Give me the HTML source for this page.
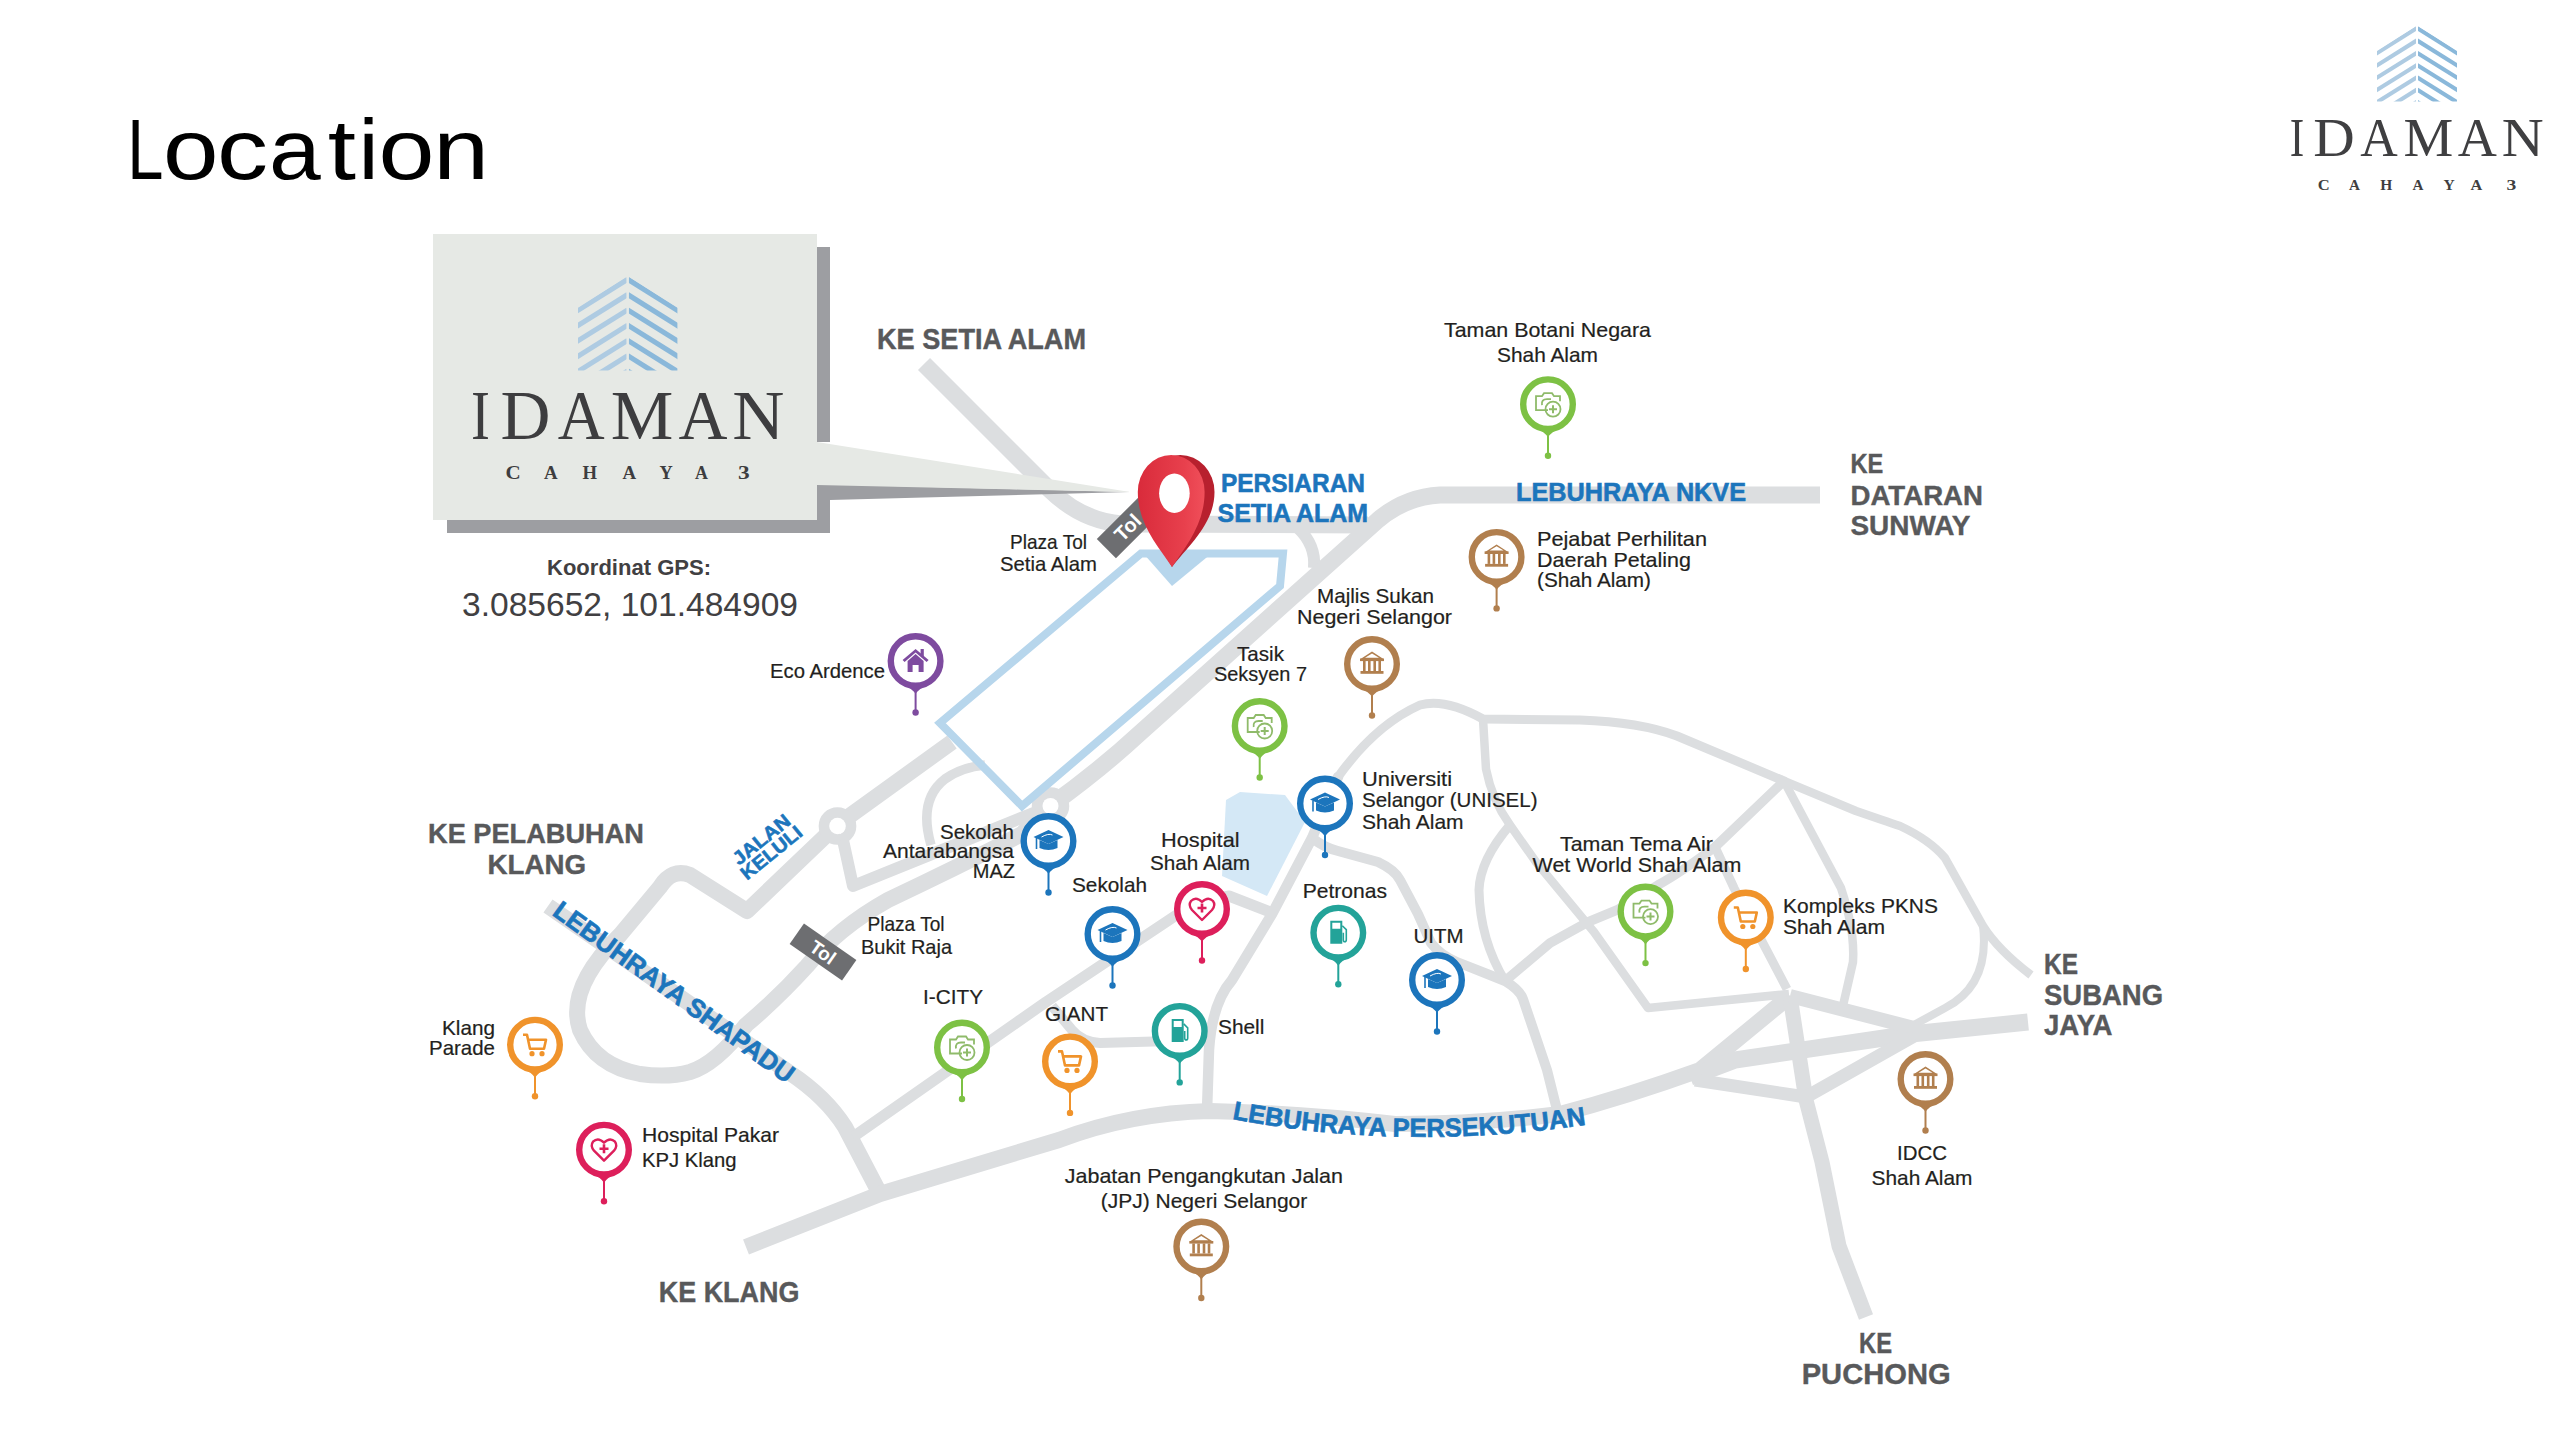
<!DOCTYPE html><html><head><meta charset="utf-8"><style>html,body{margin:0;padding:0;background:#fff;width:2560px;height:1440px;overflow:hidden}svg{display:block}</style></head><body>
<svg xmlns="http://www.w3.org/2000/svg" width="2560" height="1440" viewBox="0 0 2560 1440" font-family="Liberation Sans, sans-serif">
<defs>
<g id="i-bank" fill="#b17f4e"><path d="M -11.5 -5 L 0 -12.5 L 11.5 -5 Z M -7 -6.3 L 0 -10.6 L 7 -6.3 Z" fill-rule="evenodd"/><rect x="-12" y="-5.5" width="24" height="2.6"/><rect x="-9" y="-3" width="2.6" height="10"/><rect x="-4" y="-3" width="2.6" height="10"/><rect x="1.4" y="-3" width="2.6" height="10"/><rect x="6.4" y="-3" width="2.6" height="10"/><rect x="-11.5" y="7" width="23" height="2.8"/></g>
<g id="i-cap" fill="#1c75bc"><path d="M -15 -4 L 0 -11 L 15 -4 L 0 3 Z"/><path d="M -9 -1 L -9 7 Q 0 11 9 7 L 9 -1 L 0 3 Z"/><path d="M -12 -3 L -12 8" stroke="#1c75bc" stroke-width="1.6"/><path d="M -7 -4 Q 0 -8 4 -6" stroke="#fff" stroke-width="1" fill="none"/></g>
<g id="i-heart"><path d="M 0 11 L -10 1 Q -14 -4 -11 -8 Q -6 -13 0 -7 Q 6 -13 11 -8 Q 14 -4 10 1 Z" fill="none" stroke="#dd1f5b" stroke-width="2.4" stroke-linejoin="round"/><path d="M -4.5 -1 L 4.5 -1 M 0 -5.5 L 0 3.5" stroke="#dd1f5b" stroke-width="2.6"/></g>
<g id="i-fuel" fill="#23a399"><path d="M -8 -12 L 4 -12 L 4 11 L -8 11 Z M -6 -10 L 2 -10 L 2 -4 L -6 -4 Z" fill-rule="evenodd"/><path d="M 4 -7 L 8 -3 L 8 7 Q 8 9 6.5 9 Q 5 9 5 7 L 5 0" fill="none" stroke="#23a399" stroke-width="1.6"/></g>
<g id="i-cart"><path d="M -12 -10 L -8 -10 L -5 4 L 9 4 L 11 -5 L -7 -5" fill="none" stroke="#f0932b" stroke-width="2.6" stroke-linejoin="round"/><circle cx="-3" cy="9" r="2.6" fill="#f0932b"/><circle cx="7" cy="9" r="2.6" fill="#f0932b"/></g>
<g id="i-park" fill="none" stroke="#8fbb6a" stroke-width="1.8"><path d="M 0 6 L -12 6 L -12 -8 L -6 -8 L -4 -11 L 4 -11 L 6 -8 L 12 -8 L 12 -3"/><path d="M -6 1 Q -7 -5 -1 -5 L 3 -5"/><circle cx="5" cy="5" r="7.5"/><path d="M 5 1 L 5 9 M 1 5 L 9 5" stroke-width="2"/></g>
<g id="i-house" fill="#7e4b9f"><path d="M -13 -1 L 0 -12 L 13 -1 L 11 1 L 0 -8.5 L -11 1 Z"/><path d="M -8 0 L 0 -7 L 8 0 L 8 11 L 3 11 L 3 4 L -3 4 L -3 11 L -8 11 Z"/><rect x="5" y="-12" width="3.2" height="7"/></g>
</defs>
<path d="M 1226 800 L 1240 792 L 1285 795 L 1305 822 L 1267 896 L 1222 876 Z" fill="#d4e8f6"/>
<path d="M 924 364 L 1050 490 Q 1082 521 1122 524 L 1368 525" fill="none" stroke="#dcdee0" stroke-width="17" stroke-linejoin="round" stroke-linecap="butt"/>
<path d="M 1298 528 Q 1316 545 1314 568" fill="none" stroke="#dcdee0" stroke-width="12" stroke-linejoin="round" stroke-linecap="butt"/>
<path d="M 1820 495 L 1440 495 Q 1405 497 1378 520 L 1140 733 Q 1100 770 1050 806" fill="none" stroke="#dcdee0" stroke-width="17" stroke-linejoin="round" stroke-linecap="butt"/>
<path d="M 1050 806 L 1022 834 Q 960 866 888 900 Q 838 928 807 966 Q 778 998 746 1025 Q 716 1064 690 1072 Q 668 1078 640 1074 Q 596 1066 580 1030 Q 566 988 620 935 L 660 887 Q 672 868 690 875 L 747 911 L 837 825 L 952 742" fill="none" stroke="#dcdee0" stroke-width="16" stroke-linejoin="round" stroke-linecap="butt"/>
<circle cx="837.5" cy="826" r="13.6" fill="none" stroke="#dcdee0" stroke-width="10.5"/>
<circle cx="1050.5" cy="806" r="13.5" fill="none" stroke="#dcdee0" stroke-width="10.5"/>
<path d="M 843 840 L 853 886 L 1036 812" fill="none" stroke="#dcdee0" stroke-width="12" stroke-linejoin="round" stroke-linecap="butt"/>
<path d="M 931 845 Q 918 800 945 779 Q 962 767 985 765" fill="none" stroke="#dcdee0" stroke-width="9.5" stroke-linejoin="round" stroke-linecap="butt"/>
<path d="M 548 906 L 790 1073 Q 826 1097 845 1127 L 880 1194" fill="none" stroke="#dcdee0" stroke-width="16" stroke-linejoin="round" stroke-linecap="butt"/>
<path d="M 746 1247 L 880 1194 L 1059 1140 Q 1130 1113 1210 1111 Q 1300 1113 1395 1124 Q 1480 1124 1560 1114 Q 1625 1097 1700 1070 L 1790 996" fill="none" stroke="#dcdee0" stroke-width="16" stroke-linejoin="round" stroke-linecap="butt"/>
<path d="M 853 1137 L 1046 1002 L 1175 916 Q 1200 900 1229 896 L 1273 913" fill="none" stroke="#dcdee0" stroke-width="11" stroke-linejoin="round" stroke-linecap="butt"/>
<path d="M 1052 1006 L 1072 1030 Q 1082 1042 1100 1043 L 1207 1040" fill="none" stroke="#dcdee0" stroke-width="10" stroke-linejoin="round" stroke-linecap="butt"/>
<path d="M 1207 1111 L 1209 1050 Q 1212 1003 1232 980 L 1272 914 L 1312 838 L 1338 777" fill="none" stroke="#dcdee0" stroke-width="10.5" stroke-linejoin="round" stroke-linecap="round"/>
<path d="M 1338 777 Q 1375 725 1420 705 Q 1445 698 1483 719 L 1580 720 Q 1640 722 1677 736 L 1784 781" fill="none" stroke="#dcdee0" stroke-width="9" stroke-linejoin="round" stroke-linecap="round"/>
<path d="M 1784 781 Q 1830 800 1856 811 Q 1885 821 1900 826 Q 1930 840 1945 858 L 1983 926 Q 1998 950 2031 975" fill="none" stroke="#dcdee0" stroke-width="8.5" stroke-linejoin="round" stroke-linecap="butt"/>
<path d="M 1312 838 Q 1325 848 1338 851 L 1378 862 Q 1395 870 1400 880 L 1418 914 L 1431 943 Q 1440 955 1457 962 L 1505 981 Q 1520 990 1523 999 L 1547 1070 L 1557 1110" fill="none" stroke="#dcdee0" stroke-width="10" stroke-linejoin="round" stroke-linecap="butt"/>
<path d="M 1483 719 L 1486 769 Q 1492 800 1510 825 L 1536 862 L 1594 932 L 1648 1008 L 1789 994" fill="none" stroke="#dcdee0" stroke-width="8.5" stroke-linejoin="round" stroke-linecap="butt"/>
<path d="M 1510 825 Q 1480 860 1479 890 Q 1480 940 1505 981" fill="none" stroke="#dcdee0" stroke-width="9" stroke-linejoin="round" stroke-linecap="butt"/>
<path d="M 1786 779 L 1715 847 Q 1680 873 1658 885 L 1617 910 Q 1600 917 1588 922 L 1550 943 L 1505 981" fill="none" stroke="#dcdee0" stroke-width="9.5" stroke-linejoin="round" stroke-linecap="butt"/>
<path d="M 1784 781 L 1841 888 Q 1855 930 1853 962 L 1842 1010" fill="none" stroke="#dcdee0" stroke-width="8.5" stroke-linejoin="round" stroke-linecap="butt"/>
<path d="M 1715 847 L 1734 888 L 1787 989" fill="none" stroke="#dcdee0" stroke-width="9" stroke-linejoin="round" stroke-linecap="butt"/>
<path d="M 1983 926 Q 1990 985 1945 1008 L 1912 1026" fill="none" stroke="#dcdee0" stroke-width="8" stroke-linejoin="round" stroke-linecap="butt"/>
<path d="M 1690 1077 L 1735 1060 L 1911 1034 L 2028 1022" fill="none" stroke="#dcdee0" stroke-width="17" stroke-linejoin="round" stroke-linecap="butt"/>
<path d="M 1790 996 L 1806 1100 L 1822 1162 L 1839 1246 L 1866 1317" fill="none" stroke="#dcdee0" stroke-width="15" stroke-linejoin="round" stroke-linecap="butt"/>
<path d="M 1790 996 L 1914 1028" fill="none" stroke="#dcdee0" stroke-width="14" stroke-linejoin="round" stroke-linecap="butt"/>
<path d="M 1695 1080 L 1806 1097 L 1914 1036" fill="none" stroke="#dcdee0" stroke-width="13" stroke-linejoin="round" stroke-linecap="butt"/>
<circle cx="837.5" cy="826" r="8.3" fill="#fff"/><circle cx="1050.5" cy="806" r="8" fill="#fff"/>
<path d="M 1141 553.5 L 1283 553.5 L 1280 586 L 1022 806 L 940 723 Z" fill="none" stroke="#b7d6ec" stroke-width="8" stroke-linejoin="miter"/>
<path d="M 1143 553 L 1212 553 L 1172 586 Z" fill="#b7d6ec"/>
<path d="M 447 247 L 830 247 L 830 442 L 817 442 L 817 484 L 1130 492 L 830 500 L 830 533 L 447 533 Z" fill="#9d9ea2"/>
<path d="M 433 234 L 817 234 L 817 442 L 1130 492 L 817 485 L 817 520 L 433 520 Z" fill="#e6e9e5"/>
<clipPath id="lg1L"><path d="M 578 307.7625 L 626.4575000000001 276.7 L 626.4575000000001 370.50875 L 578 370.50875 Z"/></clipPath><clipPath id="lg1R"><path d="M 628.9425 276.7 L 677.4 307.7625 L 677.4 370.50875 L 628.9425 370.50875 Z"/></clipPath><g clip-path="url(#lg1L)" stroke="#aecbe2" stroke-width="5.094250000000001"><line x1="571.7875" y1="314.16137499999996" x2="627.7" y2="279.247125" /><line x1="571.7875" y1="329.444125" x2="627.7" y2="294.529875" /><line x1="571.7875" y1="344.72687499999995" x2="627.7" y2="309.81262499999997" /><line x1="571.7875" y1="360.00962499999997" x2="627.7" y2="325.095375" /><line x1="571.7875" y1="375.292375" x2="627.7" y2="340.378125" /><line x1="571.7875" y1="390.57512499999996" x2="627.7" y2="355.660875" /><line x1="571.7875" y1="405.857875" x2="627.7" y2="370.943625" /><line x1="571.7875" y1="421.140625" x2="627.7" y2="386.226375" /></g><g clip-path="url(#lg1R)" stroke="#8ab8da" stroke-width="5.094250000000001"><line x1="627.7" y1="279.247125" x2="683.6125" y2="314.16137499999996" /><line x1="627.7" y1="294.529875" x2="683.6125" y2="329.444125" /><line x1="627.7" y1="309.81262499999997" x2="683.6125" y2="344.72687499999995" /><line x1="627.7" y1="325.095375" x2="683.6125" y2="360.00962499999997" /><line x1="627.7" y1="340.378125" x2="683.6125" y2="375.292375" /><line x1="627.7" y1="355.660875" x2="683.6125" y2="390.57512499999996" /><line x1="627.7" y1="370.943625" x2="683.6125" y2="405.857875" /><line x1="627.7" y1="386.226375" x2="683.6125" y2="421.140625" /></g>
<text x="470.95" y="438.6" font-size="70" font-family="Liberation Serif" fill="#3d3d3f" textLength="18.94" lengthAdjust="spacingAndGlyphs">I</text><text x="500.49" y="438.6" font-size="70" font-family="Liberation Serif" fill="#3d3d3f" textLength="49.99" lengthAdjust="spacingAndGlyphs">D</text><text x="557.65" y="438.6" font-size="70" font-family="Liberation Serif" fill="#3d3d3f" textLength="46.92" lengthAdjust="spacingAndGlyphs">A</text><text x="610.66" y="438.6" font-size="70" font-family="Liberation Serif" fill="#3d3d3f" textLength="62.59" lengthAdjust="spacingAndGlyphs">M</text><text x="678.52" y="438.6" font-size="70" font-family="Liberation Serif" fill="#3d3d3f" textLength="48.96" lengthAdjust="spacingAndGlyphs">A</text><text x="732.21" y="438.6" font-size="70" font-family="Liberation Serif" fill="#3d3d3f" textLength="52.17" lengthAdjust="spacingAndGlyphs">N</text>
<text x="505.47" y="479" font-size="19.5" font-family="Liberation Serif" font-weight="bold" fill="#3d3d3f" textLength="15.24" lengthAdjust="spacingAndGlyphs">C</text><text x="544.11" y="479" font-size="19.5" font-family="Liberation Serif" font-weight="bold" fill="#3d3d3f" textLength="13.62" lengthAdjust="spacingAndGlyphs">A</text><text x="582.58" y="479" font-size="19.5" font-family="Liberation Serif" font-weight="bold" fill="#3d3d3f" textLength="14.53" lengthAdjust="spacingAndGlyphs">H</text><text x="622.51" y="479" font-size="19.5" font-family="Liberation Serif" font-weight="bold" fill="#3d3d3f" textLength="13.62" lengthAdjust="spacingAndGlyphs">A</text><text x="659.59" y="479" font-size="19.5" font-family="Liberation Serif" font-weight="bold" fill="#3d3d3f" textLength="13.26" lengthAdjust="spacingAndGlyphs">Y</text><text x="694.92" y="479" font-size="19.5" font-family="Liberation Serif" font-weight="bold" fill="#3d3d3f" textLength="12.91" lengthAdjust="spacingAndGlyphs">A</text><text x="738.01" y="479" font-size="19.5" font-family="Liberation Serif" font-weight="bold" fill="#3d3d3f" textLength="11.68" lengthAdjust="spacingAndGlyphs">3</text>
<text x="547" y="575" font-size="22" font-weight="bold" fill="#414042" font-family="Liberation Sans" text-anchor="start" textLength="164.0" lengthAdjust="spacingAndGlyphs">Koordinat GPS:</text>
<text x="462" y="615.6" font-size="34" fill="#414042" font-family="Liberation Sans" text-anchor="start" textLength="336.0" lengthAdjust="spacingAndGlyphs">3.085652, 101.484909</text>
<text x="127.26" y="179" font-size="86" font-family="Liberation Sans" fill="#000" textLength="36.19" lengthAdjust="spacingAndGlyphs">L</text><text x="163.01" y="179" font-size="86" font-family="Liberation Sans" fill="#000" textLength="55.50" lengthAdjust="spacingAndGlyphs">o</text><text x="217.11" y="179" font-size="86" font-family="Liberation Sans" fill="#000" textLength="51.04" lengthAdjust="spacingAndGlyphs">c</text><text x="268.99" y="179" font-size="86" font-family="Liberation Sans" fill="#000" textLength="51.72" lengthAdjust="spacingAndGlyphs">a</text><text x="327.78" y="179" font-size="86" font-family="Liberation Sans" fill="#000" textLength="28.22" lengthAdjust="spacingAndGlyphs">t</text><text x="358.51" y="179" font-size="86" font-family="Liberation Sans" fill="#000" textLength="20.20" lengthAdjust="spacingAndGlyphs">i</text><text x="378.47" y="179" font-size="86" font-family="Liberation Sans" fill="#000" textLength="55.97" lengthAdjust="spacingAndGlyphs">o</text><text x="433.28" y="179" font-size="86" font-family="Liberation Sans" fill="#000" textLength="55.75" lengthAdjust="spacingAndGlyphs">n</text>
<clipPath id="lg2L"><path d="M 2377 51.0 L 2416.0 26 L 2416.0 101.5 L 2377 101.5 Z"/></clipPath><clipPath id="lg2R"><path d="M 2418.0 26 L 2457 51.0 L 2457 101.5 L 2418.0 101.5 Z"/></clipPath><g clip-path="url(#lg2L)" stroke="#aecbe2" stroke-width="4.1"><line x1="2372.0" y1="56.15" x2="2417.0" y2="28.049999999999997" /><line x1="2372.0" y1="68.44999999999999" x2="2417.0" y2="40.349999999999994" /><line x1="2372.0" y1="80.74999999999999" x2="2417.0" y2="52.64999999999999" /><line x1="2372.0" y1="93.05" x2="2417.0" y2="64.95" /><line x1="2372.0" y1="105.35" x2="2417.0" y2="77.25" /><line x1="2372.0" y1="117.64999999999999" x2="2417.0" y2="89.55" /><line x1="2372.0" y1="129.95000000000002" x2="2417.0" y2="101.85000000000001" /><line x1="2372.0" y1="142.25000000000003" x2="2417.0" y2="114.15000000000003" /></g><g clip-path="url(#lg2R)" stroke="#8ab8da" stroke-width="4.1"><line x1="2417.0" y1="28.049999999999997" x2="2462.0" y2="56.15" /><line x1="2417.0" y1="40.349999999999994" x2="2462.0" y2="68.44999999999999" /><line x1="2417.0" y1="52.64999999999999" x2="2462.0" y2="80.74999999999999" /><line x1="2417.0" y1="64.95" x2="2462.0" y2="93.05" /><line x1="2417.0" y1="77.25" x2="2462.0" y2="105.35" /><line x1="2417.0" y1="89.55" x2="2462.0" y2="117.64999999999999" /><line x1="2417.0" y1="101.85000000000001" x2="2462.0" y2="129.95000000000002" /><line x1="2417.0" y1="114.15000000000003" x2="2462.0" y2="142.25000000000003" /></g>
<text x="2289.63" y="156.1" font-size="55.3" font-family="Liberation Serif" fill="#3f3f41" textLength="14.49" lengthAdjust="spacingAndGlyphs">I</text><text x="2313.13" y="156.1" font-size="55.3" font-family="Liberation Serif" fill="#3f3f41" textLength="41.47" lengthAdjust="spacingAndGlyphs">D</text><text x="2360.18" y="156.1" font-size="55.3" font-family="Liberation Serif" fill="#3f3f41" textLength="37.49" lengthAdjust="spacingAndGlyphs">A</text><text x="2403.38" y="156.1" font-size="55.3" font-family="Liberation Serif" fill="#3f3f41" textLength="49.75" lengthAdjust="spacingAndGlyphs">M</text><text x="2457.86" y="156.1" font-size="55.3" font-family="Liberation Serif" fill="#3f3f41" textLength="39.13" lengthAdjust="spacingAndGlyphs">A</text><text x="2501.82" y="156.1" font-size="55.3" font-family="Liberation Serif" fill="#3f3f41" textLength="41.93" lengthAdjust="spacingAndGlyphs">N</text>
<text x="2317.89" y="189.9" font-size="15" font-family="Liberation Serif" font-weight="bold" fill="#3f3f41" textLength="11.98" lengthAdjust="spacingAndGlyphs">C</text><text x="2349.05" y="189.9" font-size="15" font-family="Liberation Serif" font-weight="bold" fill="#3f3f41" textLength="10.96" lengthAdjust="spacingAndGlyphs">A</text><text x="2380.24" y="189.9" font-size="15" font-family="Liberation Serif" font-weight="bold" fill="#3f3f41" textLength="12.02" lengthAdjust="spacingAndGlyphs">H</text><text x="2412.45" y="189.9" font-size="15" font-family="Liberation Serif" font-weight="bold" fill="#3f3f41" textLength="10.96" lengthAdjust="spacingAndGlyphs">A</text><text x="2443.63" y="189.9" font-size="15" font-family="Liberation Serif" font-weight="bold" fill="#3f3f41" textLength="11.26" lengthAdjust="spacingAndGlyphs">Y</text><text x="2470.44" y="189.9" font-size="15" font-family="Liberation Serif" font-weight="bold" fill="#3f3f41" textLength="11.78" lengthAdjust="spacingAndGlyphs">A</text><text x="2506.55" y="189.9" font-size="15" font-family="Liberation Serif" font-weight="bold" fill="#3f3f41" textLength="9.81" lengthAdjust="spacingAndGlyphs">3</text>
<g transform="translate(1129,526) rotate(-45)"><rect x="-32" y="-13.5" width="64" height="27" fill="#6d6e71"/><text x="-2" y="7" font-size="20" font-weight="bold" fill="#fff" text-anchor="middle">Tol</text></g>
<g transform="translate(823,952) rotate(35)"><rect x="-32" y="-12.5" width="64" height="25" fill="#6d6e71"/><text x="0" y="7" font-size="19" font-weight="bold" fill="#fff" text-anchor="middle">Tol</text></g>
<defs><linearGradient id="pinf" x1="0" y1="0" x2="1" y2="0"><stop offset="0" stop-color="#d92b3b"/><stop offset="0.7" stop-color="#e8404d"/><stop offset="1" stop-color="#f04f5a"/></linearGradient></defs>
<path d="M 1172 567 C 1160 546 1146 524 1146 492 A 34.2 37 0 0 1 1214.5 492 C 1214.5 524 1188 546 1172 567 Z" fill="#b8202e"/>
<path d="M 1172 567 C 1158 546 1137.8 524 1137.8 492 A 33.4 37 0 0 1 1204.6 492 C 1204.6 524 1186 546 1172 567 Z" fill="url(#pinf)"/>
<ellipse cx="1174.4" cy="493.3" rx="15.3" ry="19.7" fill="#fff"/>
<g transform="translate(1548,404.2)"><path d="M -13 23 Q -3 28 0 33 Q 3 28 13 23 Z" fill="#7dc144"/><line x1="0" y1="30" x2="0" y2="50" stroke="#7dc144" stroke-width="2"/><circle cx="0" cy="51.5" r="3.2" fill="#7dc144"/><circle cx="0" cy="0" r="24.8" fill="#fff" stroke="#7dc144" stroke-width="6.4"/><use href="#i-park"/></g>
<g transform="translate(1496.6,556.9)"><path d="M -13 23 Q -3 28 0 33 Q 3 28 13 23 Z" fill="#b17f4e"/><line x1="0" y1="30" x2="0" y2="50" stroke="#b17f4e" stroke-width="2"/><circle cx="0" cy="51.5" r="3.2" fill="#b17f4e"/><circle cx="0" cy="0" r="24.8" fill="#fff" stroke="#b17f4e" stroke-width="6.4"/><use href="#i-bank"/></g>
<g transform="translate(1372,664)"><path d="M -13 23 Q -3 28 0 33 Q 3 28 13 23 Z" fill="#b17f4e"/><line x1="0" y1="30" x2="0" y2="50" stroke="#b17f4e" stroke-width="2"/><circle cx="0" cy="51.5" r="3.2" fill="#b17f4e"/><circle cx="0" cy="0" r="24.8" fill="#fff" stroke="#b17f4e" stroke-width="6.4"/><use href="#i-bank"/></g>
<g transform="translate(1259.7,726)"><path d="M -13 23 Q -3 28 0 33 Q 3 28 13 23 Z" fill="#7dc144"/><line x1="0" y1="30" x2="0" y2="50" stroke="#7dc144" stroke-width="2"/><circle cx="0" cy="51.5" r="3.2" fill="#7dc144"/><circle cx="0" cy="0" r="24.8" fill="#fff" stroke="#7dc144" stroke-width="6.4"/><use href="#i-park"/></g>
<g transform="translate(915.6,661)"><path d="M -13 23 Q -3 28 0 33 Q 3 28 13 23 Z" fill="#7e4b9f"/><line x1="0" y1="30" x2="0" y2="50" stroke="#7e4b9f" stroke-width="2"/><circle cx="0" cy="51.5" r="3.2" fill="#7e4b9f"/><circle cx="0" cy="0" r="24.8" fill="#fff" stroke="#7e4b9f" stroke-width="6.4"/><use href="#i-house"/></g>
<g transform="translate(1325,803.5)"><path d="M -13 23 Q -3 28 0 33 Q 3 28 13 23 Z" fill="#1c75bc"/><line x1="0" y1="30" x2="0" y2="50" stroke="#1c75bc" stroke-width="2"/><circle cx="0" cy="51.5" r="3.2" fill="#1c75bc"/><circle cx="0" cy="0" r="24.8" fill="#fff" stroke="#1c75bc" stroke-width="6.4"/><use href="#i-cap"/></g>
<g transform="translate(1048.5,841)"><path d="M -13 23 Q -3 28 0 33 Q 3 28 13 23 Z" fill="#1c75bc"/><line x1="0" y1="30" x2="0" y2="50" stroke="#1c75bc" stroke-width="2"/><circle cx="0" cy="51.5" r="3.2" fill="#1c75bc"/><circle cx="0" cy="0" r="24.8" fill="#fff" stroke="#1c75bc" stroke-width="6.4"/><use href="#i-cap"/></g>
<g transform="translate(1202,909)"><path d="M -13 23 Q -3 28 0 33 Q 3 28 13 23 Z" fill="#dd1f5b"/><line x1="0" y1="30" x2="0" y2="50" stroke="#dd1f5b" stroke-width="2"/><circle cx="0" cy="51.5" r="3.2" fill="#dd1f5b"/><circle cx="0" cy="0" r="24.8" fill="#fff" stroke="#dd1f5b" stroke-width="6.4"/><use href="#i-heart"/></g>
<g transform="translate(1112.5,934)"><path d="M -13 23 Q -3 28 0 33 Q 3 28 13 23 Z" fill="#1c75bc"/><line x1="0" y1="30" x2="0" y2="50" stroke="#1c75bc" stroke-width="2"/><circle cx="0" cy="51.5" r="3.2" fill="#1c75bc"/><circle cx="0" cy="0" r="24.8" fill="#fff" stroke="#1c75bc" stroke-width="6.4"/><use href="#i-cap"/></g>
<g transform="translate(1338.3,932.7)"><path d="M -13 23 Q -3 28 0 33 Q 3 28 13 23 Z" fill="#23a399"/><line x1="0" y1="30" x2="0" y2="50" stroke="#23a399" stroke-width="2"/><circle cx="0" cy="51.5" r="3.2" fill="#23a399"/><circle cx="0" cy="0" r="24.8" fill="#fff" stroke="#23a399" stroke-width="6.4"/><use href="#i-fuel"/></g>
<g transform="translate(1437,980)"><path d="M -13 23 Q -3 28 0 33 Q 3 28 13 23 Z" fill="#1c75bc"/><line x1="0" y1="30" x2="0" y2="50" stroke="#1c75bc" stroke-width="2"/><circle cx="0" cy="51.5" r="3.2" fill="#1c75bc"/><circle cx="0" cy="0" r="24.8" fill="#fff" stroke="#1c75bc" stroke-width="6.4"/><use href="#i-cap"/></g>
<g transform="translate(1645.5,911.6)"><path d="M -13 23 Q -3 28 0 33 Q 3 28 13 23 Z" fill="#7dc144"/><line x1="0" y1="30" x2="0" y2="50" stroke="#7dc144" stroke-width="2"/><circle cx="0" cy="51.5" r="3.2" fill="#7dc144"/><circle cx="0" cy="0" r="24.8" fill="#fff" stroke="#7dc144" stroke-width="6.4"/><use href="#i-park"/></g>
<g transform="translate(1745.8,917.5)"><path d="M -13 23 Q -3 28 0 33 Q 3 28 13 23 Z" fill="#f0932b"/><line x1="0" y1="30" x2="0" y2="50" stroke="#f0932b" stroke-width="2"/><circle cx="0" cy="51.5" r="3.2" fill="#f0932b"/><circle cx="0" cy="0" r="24.8" fill="#fff" stroke="#f0932b" stroke-width="6.4"/><use href="#i-cart"/></g>
<g transform="translate(962,1047.5)"><path d="M -13 23 Q -3 28 0 33 Q 3 28 13 23 Z" fill="#7dc144"/><line x1="0" y1="30" x2="0" y2="50" stroke="#7dc144" stroke-width="2"/><circle cx="0" cy="51.5" r="3.2" fill="#7dc144"/><circle cx="0" cy="0" r="24.8" fill="#fff" stroke="#7dc144" stroke-width="6.4"/><use href="#i-park"/></g>
<g transform="translate(1070,1061.4)"><path d="M -13 23 Q -3 28 0 33 Q 3 28 13 23 Z" fill="#f0932b"/><line x1="0" y1="30" x2="0" y2="50" stroke="#f0932b" stroke-width="2"/><circle cx="0" cy="51.5" r="3.2" fill="#f0932b"/><circle cx="0" cy="0" r="24.8" fill="#fff" stroke="#f0932b" stroke-width="6.4"/><use href="#i-cart"/></g>
<g transform="translate(1179.7,1030.9)"><path d="M -13 23 Q -3 28 0 33 Q 3 28 13 23 Z" fill="#23a399"/><line x1="0" y1="30" x2="0" y2="50" stroke="#23a399" stroke-width="2"/><circle cx="0" cy="51.5" r="3.2" fill="#23a399"/><circle cx="0" cy="0" r="24.8" fill="#fff" stroke="#23a399" stroke-width="6.4"/><use href="#i-fuel"/></g>
<g transform="translate(535,1044.7)"><path d="M -13 23 Q -3 28 0 33 Q 3 28 13 23 Z" fill="#f0932b"/><line x1="0" y1="30" x2="0" y2="50" stroke="#f0932b" stroke-width="2"/><circle cx="0" cy="51.5" r="3.2" fill="#f0932b"/><circle cx="0" cy="0" r="24.8" fill="#fff" stroke="#f0932b" stroke-width="6.4"/><use href="#i-cart"/></g>
<g transform="translate(604,1149.7)"><path d="M -13 23 Q -3 28 0 33 Q 3 28 13 23 Z" fill="#dd1f5b"/><line x1="0" y1="30" x2="0" y2="50" stroke="#dd1f5b" stroke-width="2"/><circle cx="0" cy="51.5" r="3.2" fill="#dd1f5b"/><circle cx="0" cy="0" r="24.8" fill="#fff" stroke="#dd1f5b" stroke-width="6.4"/><use href="#i-heart"/></g>
<g transform="translate(1925.5,1079)"><path d="M -13 23 Q -3 28 0 33 Q 3 28 13 23 Z" fill="#b17f4e"/><line x1="0" y1="30" x2="0" y2="50" stroke="#b17f4e" stroke-width="2"/><circle cx="0" cy="51.5" r="3.2" fill="#b17f4e"/><circle cx="0" cy="0" r="24.8" fill="#fff" stroke="#b17f4e" stroke-width="6.4"/><use href="#i-bank"/></g>
<g transform="translate(1201.3,1246.5)"><path d="M -13 23 Q -3 28 0 33 Q 3 28 13 23 Z" fill="#b17f4e"/><line x1="0" y1="30" x2="0" y2="50" stroke="#b17f4e" stroke-width="2"/><circle cx="0" cy="51.5" r="3.2" fill="#b17f4e"/><circle cx="0" cy="0" r="24.8" fill="#fff" stroke="#b17f4e" stroke-width="6.4"/><use href="#i-bank"/></g>
<text x="877" y="349" font-size="30" font-weight="bold" fill="#58595b" font-family="Liberation Sans" text-anchor="start" textLength="209.0" lengthAdjust="spacingAndGlyphs" stroke="#58595b" stroke-width="0.4">KE SETIA ALAM</text>
<text x="1221" y="492" font-size="26" font-weight="bold" fill="#1c75bc" font-family="Liberation Sans" text-anchor="start" textLength="144.0" lengthAdjust="spacingAndGlyphs" stroke="#1c75bc" stroke-width="0.6">PERSIARAN</text>
<text x="1217.5" y="522" font-size="26" font-weight="bold" fill="#1c75bc" font-family="Liberation Sans" text-anchor="start" textLength="150.5" lengthAdjust="spacingAndGlyphs" stroke="#1c75bc" stroke-width="0.6">SETIA ALAM</text>
<text x="1010" y="549" font-size="21" fill="#231f20" font-family="Liberation Sans" text-anchor="start" textLength="77.0" lengthAdjust="spacingAndGlyphs" stroke="#231f20" stroke-width="0.2">Plaza Tol</text>
<text x="1000" y="571" font-size="21" fill="#231f20" font-family="Liberation Sans" text-anchor="start" textLength="97.0" lengthAdjust="spacingAndGlyphs" stroke="#231f20" stroke-width="0.2">Setia Alam</text>
<text x="1444" y="337.4" font-size="21" fill="#231f20" font-family="Liberation Sans" text-anchor="start" textLength="207.0" lengthAdjust="spacingAndGlyphs" stroke="#231f20" stroke-width="0.2">Taman Botani Negara</text>
<text x="1497" y="362.3" font-size="21" fill="#231f20" font-family="Liberation Sans" text-anchor="start" textLength="101.0" lengthAdjust="spacingAndGlyphs" stroke="#231f20" stroke-width="0.2">Shah Alam</text>
<text x="1516" y="500.6" font-size="26" font-weight="bold" fill="#1c75bc" font-family="Liberation Sans" text-anchor="start" textLength="230.0" lengthAdjust="spacingAndGlyphs" stroke="#1c75bc" stroke-width="0.6">LEBUHRAYA NKVE</text>
<text x="1850.5" y="473.3" font-size="28" font-weight="bold" fill="#58595b" font-family="Liberation Sans" text-anchor="start" textLength="32.8" lengthAdjust="spacingAndGlyphs" stroke="#58595b" stroke-width="0.4">KE</text>
<text x="1850.5" y="505" font-size="28" font-weight="bold" fill="#58595b" font-family="Liberation Sans" text-anchor="start" textLength="132.5" lengthAdjust="spacingAndGlyphs" stroke="#58595b" stroke-width="0.4">DATARAN</text>
<text x="1850.5" y="534.5" font-size="28" font-weight="bold" fill="#58595b" font-family="Liberation Sans" text-anchor="start" textLength="120.0" lengthAdjust="spacingAndGlyphs" stroke="#58595b" stroke-width="0.4">SUNWAY</text>
<text x="1537" y="545.7" font-size="21" fill="#231f20" font-family="Liberation Sans" text-anchor="start" textLength="170.0" lengthAdjust="spacingAndGlyphs" stroke="#231f20" stroke-width="0.2">Pejabat Perhilitan</text>
<text x="1537" y="567" font-size="21" fill="#231f20" font-family="Liberation Sans" text-anchor="start" textLength="154.0" lengthAdjust="spacingAndGlyphs" stroke="#231f20" stroke-width="0.2">Daerah Petaling</text>
<text x="1537" y="587.4" font-size="21" fill="#231f20" font-family="Liberation Sans" text-anchor="start" textLength="114.0" lengthAdjust="spacingAndGlyphs" stroke="#231f20" stroke-width="0.2">(Shah Alam)</text>
<text x="1317" y="603" font-size="21" fill="#231f20" font-family="Liberation Sans" text-anchor="start" textLength="117.0" lengthAdjust="spacingAndGlyphs" stroke="#231f20" stroke-width="0.2">Majlis Sukan</text>
<text x="1297" y="624" font-size="21" fill="#231f20" font-family="Liberation Sans" text-anchor="start" textLength="155.0" lengthAdjust="spacingAndGlyphs" stroke="#231f20" stroke-width="0.2">Negeri Selangor</text>
<text x="1237" y="661" font-size="21" fill="#231f20" font-family="Liberation Sans" text-anchor="start" textLength="47.0" lengthAdjust="spacingAndGlyphs" stroke="#231f20" stroke-width="0.2">Tasik</text>
<text x="1214" y="681" font-size="21" fill="#231f20" font-family="Liberation Sans" text-anchor="start" textLength="93.0" lengthAdjust="spacingAndGlyphs" stroke="#231f20" stroke-width="0.2">Seksyen 7</text>
<text x="770" y="677.7" font-size="21" fill="#231f20" font-family="Liberation Sans" text-anchor="start" textLength="115.0" lengthAdjust="spacingAndGlyphs" stroke="#231f20" stroke-width="0.2">Eco Ardence</text>
<text x="1362" y="786.3" font-size="21" fill="#231f20" font-family="Liberation Sans" text-anchor="start" textLength="90.0" lengthAdjust="spacingAndGlyphs" stroke="#231f20" stroke-width="0.2">Universiti</text>
<text x="1362" y="807.4" font-size="21" fill="#231f20" font-family="Liberation Sans" text-anchor="start" textLength="175.5" lengthAdjust="spacingAndGlyphs" stroke="#231f20" stroke-width="0.2">Selangor (UNISEL)</text>
<text x="1362" y="828.5" font-size="21" fill="#231f20" font-family="Liberation Sans" text-anchor="start" textLength="101.6" lengthAdjust="spacingAndGlyphs" stroke="#231f20" stroke-width="0.2">Shah Alam</text>
<text x="940" y="838.5" font-size="21" fill="#231f20" font-family="Liberation Sans" text-anchor="start" textLength="74.0" lengthAdjust="spacingAndGlyphs" stroke="#231f20" stroke-width="0.2">Sekolah</text>
<text x="883" y="858" font-size="21" fill="#231f20" font-family="Liberation Sans" text-anchor="start" textLength="131.0" lengthAdjust="spacingAndGlyphs" stroke="#231f20" stroke-width="0.2">Antarabangsa</text>
<text x="972.7" y="878" font-size="21" fill="#231f20" font-family="Liberation Sans" text-anchor="start" textLength="42.3" lengthAdjust="spacingAndGlyphs" stroke="#231f20" stroke-width="0.2">MAZ</text>
<text x="1161" y="846.7" font-size="21" fill="#231f20" font-family="Liberation Sans" text-anchor="start" textLength="78.6" lengthAdjust="spacingAndGlyphs" stroke="#231f20" stroke-width="0.2">Hospital</text>
<text x="1150" y="869.6" font-size="21" fill="#231f20" font-family="Liberation Sans" text-anchor="start" textLength="100.0" lengthAdjust="spacingAndGlyphs" stroke="#231f20" stroke-width="0.2">Shah Alam</text>
<text x="1072" y="891.8" font-size="21" fill="#231f20" font-family="Liberation Sans" text-anchor="start" textLength="75.0" lengthAdjust="spacingAndGlyphs" stroke="#231f20" stroke-width="0.2">Sekolah</text>
<text x="428" y="843.3" font-size="28" font-weight="bold" fill="#58595b" font-family="Liberation Sans" text-anchor="start" textLength="216.0" lengthAdjust="spacingAndGlyphs" stroke="#58595b" stroke-width="0.4">KE PELABUHAN</text>
<text x="487.5" y="874.4" font-size="28" font-weight="bold" fill="#58595b" font-family="Liberation Sans" text-anchor="start" textLength="98.5" lengthAdjust="spacingAndGlyphs" stroke="#58595b" stroke-width="0.4">KLANG</text>
<text x="867.5" y="931" font-size="21" fill="#231f20" font-family="Liberation Sans" text-anchor="start" textLength="77.1" lengthAdjust="spacingAndGlyphs" stroke="#231f20" stroke-width="0.2">Plaza Tol</text>
<text x="861" y="954" font-size="21" fill="#231f20" font-family="Liberation Sans" text-anchor="start" textLength="91.0" lengthAdjust="spacingAndGlyphs" stroke="#231f20" stroke-width="0.2">Bukit Raja</text>
<text x="1302.7" y="898.4" font-size="21" fill="#231f20" font-family="Liberation Sans" text-anchor="start" textLength="84.3" lengthAdjust="spacingAndGlyphs" stroke="#231f20" stroke-width="0.2">Petronas</text>
<text x="1413.5" y="943.3" font-size="21" fill="#231f20" font-family="Liberation Sans" text-anchor="start" textLength="50.1" lengthAdjust="spacingAndGlyphs" stroke="#231f20" stroke-width="0.2">UITM</text>
<text x="1560" y="850.7" font-size="21" fill="#231f20" font-family="Liberation Sans" text-anchor="start" textLength="153.0" lengthAdjust="spacingAndGlyphs" stroke="#231f20" stroke-width="0.2">Taman Tema Air</text>
<text x="1532.6" y="871.5" font-size="21" fill="#231f20" font-family="Liberation Sans" text-anchor="start" textLength="208.8" lengthAdjust="spacingAndGlyphs" stroke="#231f20" stroke-width="0.2">Wet World Shah Alam</text>
<text x="1783" y="913" font-size="21" fill="#231f20" font-family="Liberation Sans" text-anchor="start" textLength="155.0" lengthAdjust="spacingAndGlyphs" stroke="#231f20" stroke-width="0.2">Kompleks PKNS</text>
<text x="1783" y="934" font-size="21" fill="#231f20" font-family="Liberation Sans" text-anchor="start" textLength="102.0" lengthAdjust="spacingAndGlyphs" stroke="#231f20" stroke-width="0.2">Shah Alam</text>
<text x="2044" y="974" font-size="29" font-weight="bold" fill="#58595b" font-family="Liberation Sans" text-anchor="start" textLength="34.0" lengthAdjust="spacingAndGlyphs" stroke="#58595b" stroke-width="0.4">KE</text>
<text x="2044" y="1004.5" font-size="29" font-weight="bold" fill="#58595b" font-family="Liberation Sans" text-anchor="start" textLength="119.0" lengthAdjust="spacingAndGlyphs" stroke="#58595b" stroke-width="0.4">SUBANG</text>
<text x="2044" y="1034.8" font-size="29" font-weight="bold" fill="#58595b" font-family="Liberation Sans" text-anchor="start" textLength="68.5" lengthAdjust="spacingAndGlyphs" stroke="#58595b" stroke-width="0.4">JAYA</text>
<text x="923" y="1003.5" font-size="21" fill="#231f20" font-family="Liberation Sans" text-anchor="start" textLength="60.0" lengthAdjust="spacingAndGlyphs" stroke="#231f20" stroke-width="0.2">I-CITY</text>
<text x="1045" y="1021" font-size="21" fill="#231f20" font-family="Liberation Sans" text-anchor="start" textLength="63.0" lengthAdjust="spacingAndGlyphs" stroke="#231f20" stroke-width="0.2">GIANT</text>
<text x="1218" y="1034.3" font-size="21" fill="#231f20" font-family="Liberation Sans" text-anchor="start" textLength="46.4" lengthAdjust="spacingAndGlyphs" stroke="#231f20" stroke-width="0.2">Shell</text>
<text x="442" y="1034.6" font-size="21" fill="#231f20" font-family="Liberation Sans" text-anchor="start" textLength="53.0" lengthAdjust="spacingAndGlyphs" stroke="#231f20" stroke-width="0.2">Klang</text>
<text x="429" y="1054.5" font-size="21" fill="#231f20" font-family="Liberation Sans" text-anchor="start" textLength="66.0" lengthAdjust="spacingAndGlyphs" stroke="#231f20" stroke-width="0.2">Parade</text>
<text x="642" y="1142" font-size="21" fill="#231f20" font-family="Liberation Sans" text-anchor="start" textLength="137.0" lengthAdjust="spacingAndGlyphs" stroke="#231f20" stroke-width="0.2">Hospital Pakar</text>
<text x="642" y="1166.8" font-size="21" fill="#231f20" font-family="Liberation Sans" text-anchor="start" textLength="94.6" lengthAdjust="spacingAndGlyphs" stroke="#231f20" stroke-width="0.2">KPJ Klang</text>
<text x="1897" y="1160.3" font-size="21" fill="#231f20" font-family="Liberation Sans" text-anchor="start" textLength="50.0" lengthAdjust="spacingAndGlyphs" stroke="#231f20" stroke-width="0.2">IDCC</text>
<text x="1871.5" y="1185.4" font-size="21" fill="#231f20" font-family="Liberation Sans" text-anchor="start" textLength="101.0" lengthAdjust="spacingAndGlyphs" stroke="#231f20" stroke-width="0.2">Shah Alam</text>
<text x="1064.8" y="1183" font-size="21" fill="#231f20" font-family="Liberation Sans" text-anchor="start" textLength="278.2" lengthAdjust="spacingAndGlyphs" stroke="#231f20" stroke-width="0.2">Jabatan Pengangkutan Jalan</text>
<text x="1100.7" y="1207.7" font-size="21" fill="#231f20" font-family="Liberation Sans" text-anchor="start" textLength="206.6" lengthAdjust="spacingAndGlyphs" stroke="#231f20" stroke-width="0.2">(JPJ) Negeri Selangor</text>
<text x="658.8" y="1301.6" font-size="30" font-weight="bold" fill="#58595b" font-family="Liberation Sans" text-anchor="start" textLength="140.6" lengthAdjust="spacingAndGlyphs" stroke="#58595b" stroke-width="0.4">KE KLANG</text>
<text x="1859" y="1353" font-size="30" font-weight="bold" fill="#58595b" font-family="Liberation Sans" text-anchor="start" textLength="33.0" lengthAdjust="spacingAndGlyphs" stroke="#58595b" stroke-width="0.4">KE</text>
<text x="1801.7" y="1384.4" font-size="30" font-weight="bold" fill="#58595b" font-family="Liberation Sans" text-anchor="start" textLength="148.9" lengthAdjust="spacingAndGlyphs" stroke="#58595b" stroke-width="0.4">PUCHONG</text>
<g transform="translate(739,866) rotate(-39)" font-size="19" font-weight="bold" fill="#1c75bc" stroke="#1c75bc" stroke-width="0.6"><text x="0" y="0" textLength="68" lengthAdjust="spacingAndGlyphs">JALAN</text><text x="-3" y="16.5" textLength="73" lengthAdjust="spacingAndGlyphs">KELULI</text></g>
<g transform="translate(674,992) rotate(35.8)"><text x="0" y="9" font-size="26" font-weight="bold" fill="#1c75bc" stroke="#1c75bc" stroke-width="0.7" text-anchor="middle" textLength="290" lengthAdjust="spacingAndGlyphs">LEBUHRAYA SHAPADU</text></g>
<path id="persek" d="M 1232 1119 Q 1405 1152 1590 1124" fill="none"/>
<text font-size="26" font-weight="bold" fill="#1c75bc" stroke="#1c75bc" stroke-width="0.7"><textPath href="#persek" textLength="356" lengthAdjust="spacingAndGlyphs">LEBUHRAYA PERSEKUTUAN</textPath></text>
</svg></body></html>
